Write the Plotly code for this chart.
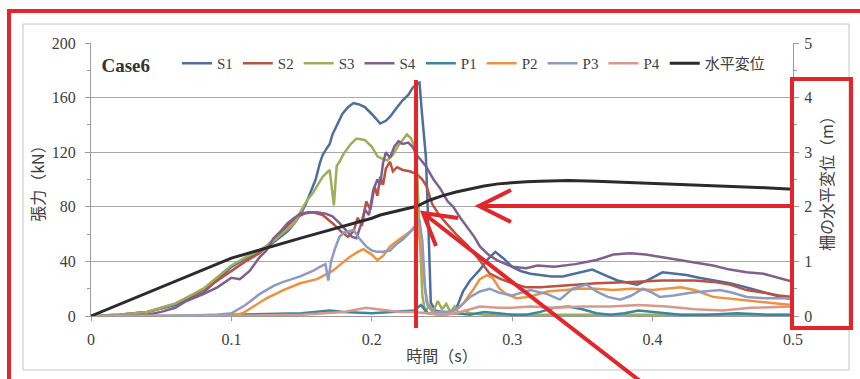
import plotly.graph_objects as go

# ---- time histories (t in s, tension in kN, displacement in m) ----
s1_t = [0, 0.02, 0.04, 0.06, 0.08, 0.1, 0.11, 0.12, 0.13, 0.14, 0.145, 0.15, 0.153, 0.156, 0.16, 0.163,
        0.165, 0.168, 0.17, 0.172, 0.175, 0.179, 0.183, 0.187, 0.191, 0.195, 0.2, 0.206, 0.21, 0.213,
        0.218, 0.222, 0.226, 0.229, 0.232, 0.234, 0.2355, 0.2385, 0.2405, 0.242, 0.245, 0.25, 0.255,
        0.26, 0.265, 0.27, 0.277, 0.283, 0.288, 0.294, 0.3, 0.306, 0.313, 0.32, 0.328, 0.336, 0.345,
        0.357, 0.366, 0.375, 0.389, 0.398, 0.407, 0.415, 0.424, 0.433, 0.443, 0.455, 0.467, 0.48,
        0.491, 0.5]
s1_kn = [0, 1, 3, 8, 17, 36, 42, 47, 54, 62, 68, 76, 82, 90, 100, 112,
         118, 123, 126, 133, 140, 148, 153, 156, 155, 153, 148, 141, 143, 146,
         153, 158, 162, 167, 170, 171, 151, 117, 60, 10, 4, 3, 3,
         5, 18, 26, 34, 42, 47, 42, 36, 33, 31, 30, 29, 29, 31,
         34, 30, 26, 23, 27, 32, 31, 30, 28, 26, 24, 21, 17,
         14, 12]

s2_t = [0, 0.02, 0.04, 0.06, 0.08, 0.1, 0.11, 0.12, 0.13, 0.14, 0.146, 0.152, 0.158, 0.165, 0.172,
        0.178, 0.183, 0.187, 0.19, 0.193, 0.196, 0.199, 0.202, 0.204, 0.206, 0.208, 0.21, 0.213,
        0.215, 0.218, 0.222, 0.227, 0.232, 0.236, 0.239, 0.243, 0.248, 0.253, 0.26, 0.268, 0.276,
        0.284, 0.292, 0.3, 0.31, 0.32, 0.335, 0.36, 0.385, 0.407, 0.43, 0.443, 0.455, 0.467, 0.48,
        0.49, 0.5]
s2_kn = [0, 1, 3, 9, 19, 33, 40, 46, 56, 66, 72, 75, 76, 74, 68,
         62, 58, 62, 72, 66, 84, 78, 95, 88, 102, 96, 108, 113,
         106, 109, 107, 106, 104, 100, 95, 82, 74, 68, 60, 52, 42,
         31, 27, 24, 21, 21, 22, 24, 25, 26, 26, 25, 23, 19, 17,
         15, 14]

s3_t = [0, 0.02, 0.04, 0.06, 0.08, 0.1, 0.11, 0.12, 0.13, 0.14, 0.145, 0.149, 0.154, 0.158, 0.161,
        0.165, 0.17, 0.173, 0.175, 0.177, 0.18, 0.185, 0.189, 0.195, 0.2, 0.204, 0.208, 0.211,
        0.215, 0.219, 0.222, 0.225, 0.228, 0.23, 0.232, 0.234, 0.236, 0.238, 0.241, 0.244, 0.247,
        0.25, 0.253, 0.256, 0.259, 0.262, 0.266, 0.27, 0.28, 0.3, 0.35, 0.4, 0.45, 0.5]
s3_kn = [0, 1, 3, 9, 20, 37, 43, 48, 55, 64, 68, 76, 85, 90, 95,
         102, 107, 81, 110, 113, 119, 126, 130, 129, 124, 117, 115, 114,
         118, 125, 129, 133, 130, 125, 112, 60, 15, 3, 8, 4, 11,
         5, 9, 3, 7, 2, 4, 2, 1, 1, 1, 1, 1, 1]

s4_t = [0, 0.02, 0.04, 0.05, 0.06, 0.068, 0.08, 0.09, 0.1, 0.106, 0.113, 0.12, 0.125, 0.13, 0.135,
        0.14, 0.145, 0.149, 0.155, 0.161, 0.167, 0.172, 0.177, 0.182, 0.186, 0.189, 0.192, 0.195,
        0.198, 0.201, 0.204, 0.206, 0.208, 0.21, 0.213, 0.216, 0.219, 0.222, 0.226, 0.229, 0.232,
        0.236, 0.239, 0.244, 0.249, 0.254, 0.258, 0.263, 0.268, 0.273, 0.277, 0.283, 0.289, 0.295,
        0.3, 0.31, 0.318, 0.33, 0.345, 0.36, 0.372, 0.384, 0.395, 0.407, 0.42, 0.431, 0.443, 0.455,
        0.467, 0.479, 0.49, 0.5]
s4_kn = [0, 0, 1, 3, 6, 11, 16, 21, 28, 27, 33, 43, 48, 57, 62,
         68, 72, 75, 76, 76, 75, 73, 68, 62, 58, 57, 66, 78,
         74, 92, 100, 96, 112, 120, 116, 124, 128, 126, 127, 124, 118,
         113, 109, 100, 93, 84, 80, 72, 65, 58, 51, 45, 41, 38,
         36, 35, 37, 36, 38, 41, 45, 46, 45, 43, 41, 39, 37, 34,
         32, 31, 28, 25]

p1_t = [0, 0.05, 0.1, 0.15, 0.17, 0.18, 0.2, 0.22, 0.23, 0.235, 0.24, 0.25, 0.26, 0.27, 0.28, 0.29,
        0.3, 0.31, 0.32, 0.33, 0.34, 0.35, 0.36, 0.37, 0.38, 0.39, 0.4, 0.42, 0.44, 0.46, 0.48, 0.5]
p1_kn = [0, 0, 1, 2, 4, 3, 2, 3, 4, 8, 2, 1, 2, 1, 3, 2,
         1, 1, 3, 6, 7, 5, 2, 1, 2, 4, 3, 1, 1, 2, 1, 1]

p2_t = [0, 0.05, 0.1, 0.108, 0.116, 0.125, 0.137, 0.149, 0.161, 0.172, 0.178, 0.184, 0.19, 0.194,
        0.2, 0.204, 0.208, 0.213, 0.218, 0.222, 0.226, 0.229, 0.233, 0.236, 0.239, 0.243, 0.25,
        0.258, 0.265, 0.272, 0.277, 0.282, 0.286, 0.291, 0.296, 0.303, 0.312, 0.325, 0.336, 0.348,
        0.36, 0.372, 0.385, 0.4, 0.42, 0.43, 0.443, 0.46, 0.479, 0.49, 0.5]
p2_kn = [0, 0, 0, 2, 7, 13, 19, 24, 27, 33, 38, 43, 47, 49,
         45, 41, 44, 51, 55, 58, 61, 63, 66, 38, 10, 3, 2,
         3, 9, 19, 27, 30, 28, 20, 16, 13, 14, 18, 19, 20,
         20, 19, 20, 19, 21, 19, 14, 12, 10, 9, 8]

p3_t = [0, 0.05, 0.09, 0.1, 0.11, 0.12, 0.13, 0.137, 0.149, 0.158, 0.163, 0.167, 0.169, 0.171, 0.174,
        0.177, 0.18, 0.184, 0.187, 0.191, 0.196, 0.2, 0.204, 0.208, 0.213, 0.218, 0.222, 0.226,
        0.229, 0.232, 0.234, 0.236, 0.238, 0.24, 0.245, 0.255, 0.262, 0.27, 0.277, 0.284, 0.291,
        0.3, 0.313, 0.325, 0.334, 0.343, 0.353, 0.36, 0.368, 0.377, 0.385, 0.393, 0.4, 0.405,
        0.415, 0.427, 0.438, 0.448, 0.457, 0.467, 0.48, 0.491, 0.5]
p3_kn = [0, 0, 1, 2, 8, 16, 22, 25, 29, 33, 36, 38, 26, 40, 50,
         58, 61, 62, 63, 57, 51, 48, 47, 47, 48, 53, 56, 60,
         64, 68, 70, 55, 20, 7, 3, 3, 6, 14, 18, 20, 17,
         15, 19, 16, 12, 20, 23, 18, 14, 12, 15, 20, 17, 14,
         15, 17, 18, 19, 17, 14, 13, 13, 13]

p4_t = [0, 0.05, 0.1, 0.15, 0.18, 0.196, 0.21, 0.22, 0.23, 0.24, 0.25, 0.26, 0.27, 0.277, 0.29,
        0.3, 0.313, 0.33, 0.35, 0.37, 0.39, 0.41, 0.43, 0.45, 0.47, 0.49, 0.5]
p4_kn = [0, 0, 0, 1, 3, 6, 4, 3, 3, 2, 1, 2, 5, 7, 6,
         6, 7, 6, 7, 7, 8, 7, 5, 4, 6, 7, 7]

disp_t = [0, 0.05, 0.1, 0.15, 0.2, 0.206, 0.232, 0.241, 0.25, 0.26, 0.27, 0.28, 0.29, 0.298, 0.31,
          0.32, 0.34, 0.36, 0.38, 0.4, 0.42, 0.44, 0.46, 0.48, 0.5]
disp_m = [0, 0.53, 1.06, 1.43, 1.79, 1.85, 2.01, 2.12, 2.2, 2.27, 2.33, 2.38, 2.42, 2.44, 2.46,
          2.47, 2.48, 2.47, 2.45, 2.44, 2.42, 2.40, 2.37, 2.35, 2.32]

failure_time = 0.2315  # instant marked by the vertical red line

series = [
    ("S1", s1_t, s1_kn, "#4E6E9E"),
    ("S2", s2_t, s2_kn, "#B9533F"),
    ("S3", s3_t, s3_kn, "#9BAE5A"),
    ("S4", s4_t, s4_kn, "#7F5F8F"),
    ("P1", p1_t, p1_kn, "#3A87A2"),
    ("P2", p2_t, p2_kn, "#EE9240"),
    ("P3", p3_t, p3_kn, "#8C9CC0"),
    ("P4", p4_t, p4_kn, "#D9998A"),
]

SERIF = "Liberation Serif, Noto Sans CJK JP, serif"
JP = "Noto Sans CJK JP, Liberation Serif, sans-serif"
RED = "#E2262C"
AXIS = "#9A9A9A"

fig = go.Figure()
for name, t, v, col in series:
    fig.add_trace(go.Scatter(x=t, y=v, name=name, mode="lines",
                             line=dict(color=col, width=2.5)))
fig.add_trace(go.Scatter(x=disp_t, y=disp_m, name="水平変位", mode="lines", yaxis="y2",
                         line=dict(color="#2B2B2B", width=3)))

# plot area occupies x 91..793, y 43..316 of the 860x379 page
W, H = 860, 379
L, R, T, B = 91, 67, 43, 63
pw, ph = W - L - R, H - T - B


def px(x):
    return (x - L) / pw


def py(y):
    return (H - B - y) / ph


shapes = []
# outer chart frame
shapes.append(dict(type="rect", xref="paper", yref="paper",
                   x0=px(23), x1=px(849), y0=py(370), y1=py(24),
                   line=dict(color="#C4C4C4", width=1), layer="below"))
# red outline along top and left
shapes.append(dict(type="path", xref="paper", yref="paper",
                   path=f"M{px(9)},{py(381)} L{px(9)},{py(11)} L{px(862)},{py(11)}",
                   line=dict(color=RED, width=4)))
# red box around the secondary axis
shapes.append(dict(type="rect", xref="paper", yref="paper",
                   x0=px(792), x1=px(851), y0=py(328), y1=py(79),
                   line=dict(color=RED, width=4)))
# vertical red marker at the failure instant
shapes.append(dict(type="line", xref="x", yref="paper",
                   x0=failure_time, x1=failure_time, y0=py(328), y1=py(80),
                   line=dict(color=RED, width=4)))
# horizontal arrow pointing from the displacement axis
shapes.append(dict(type="path", xref="paper", yref="paper",
                   path=(f"M{px(790)},{py(206)} L{px(479)},{py(206)} "
                         f"M{px(511)},{py(190)} L{px(479)},{py(206)} L{px(511)},{py(222)}"),
                   line=dict(color=RED, width=4)))
# diagonal arrow toward the failure point
shapes.append(dict(type="path", xref="paper", yref="paper",
                   path=(f"M{px(640)},{py(381)} L{px(423)},{py(213)} "
                         f"M{px(458)},{py(218)} L{px(423)},{py(213)} L{px(436)},{py(246)}"),
                   line=dict(color=RED, width=4)))

fig.update_layout(
    width=W, height=H,
    margin=dict(l=L, r=R, t=T, b=B, autoexpand=False),
    paper_bgcolor="white", plot_bgcolor="white",
    font=dict(family=SERIF, size=16, color="#404040"),
    showlegend=True,
    legend=dict(orientation="h", x=0.012, y=0.985, xanchor="left", yanchor="top",
                bgcolor="rgba(0,0,0,0)", font=dict(family=SERIF, size=15, color="#404040"),
                title=dict(text="<b>Case6</b>&nbsp;&nbsp;&nbsp;&nbsp;", side="left",
                           font=dict(family=SERIF, size=19, color="#333333")),
                itemwidth=30, tracegroupgap=0),
    xaxis=dict(range=[0, 0.5], dtick=0.1, showgrid=False, zeroline=False,
               showline=True, linecolor=AXIS, linewidth=1,
               ticks="outside", ticklen=4, tickcolor=AXIS, ticklabelstandoff=5,
               title=dict(text="時間（s）", font=dict(family=JP, size=16, color="#404040"),
                          standoff=3)),
    yaxis=dict(range=[0, 200], dtick=40, showgrid=True, gridcolor="#A8A8A8", gridwidth=1,
               zeroline=False, showline=True, linecolor=AXIS, linewidth=1,
               ticks="outside", ticklen=5, tickcolor=AXIS, ticklabelstandoff=6,
               minor=dict(dtick=20, ticks="outside", ticklen=3, tickcolor=AXIS, showgrid=False),
               title=dict(text="張力（kN）", font=dict(family=JP, size=16, color="#404040"),
                          standoff=3)),
    yaxis2=dict(range=[0, 5], dtick=1, overlaying="y", side="right", showgrid=False,
                zeroline=False, showline=True, linecolor=AXIS, linewidth=1,
                ticks="outside", ticklen=5, tickcolor=AXIS, ticklabelstandoff=2,
                minor=dict(dtick=0.5, ticks="outside", ticklen=3, tickcolor=AXIS, showgrid=False),
                title=dict(text="柵の水平変位（m）", font=dict(family=JP, size=16, color="#404040"),
                           standoff=10)),
    shapes=shapes,
)

fig.write_html("out.html")
